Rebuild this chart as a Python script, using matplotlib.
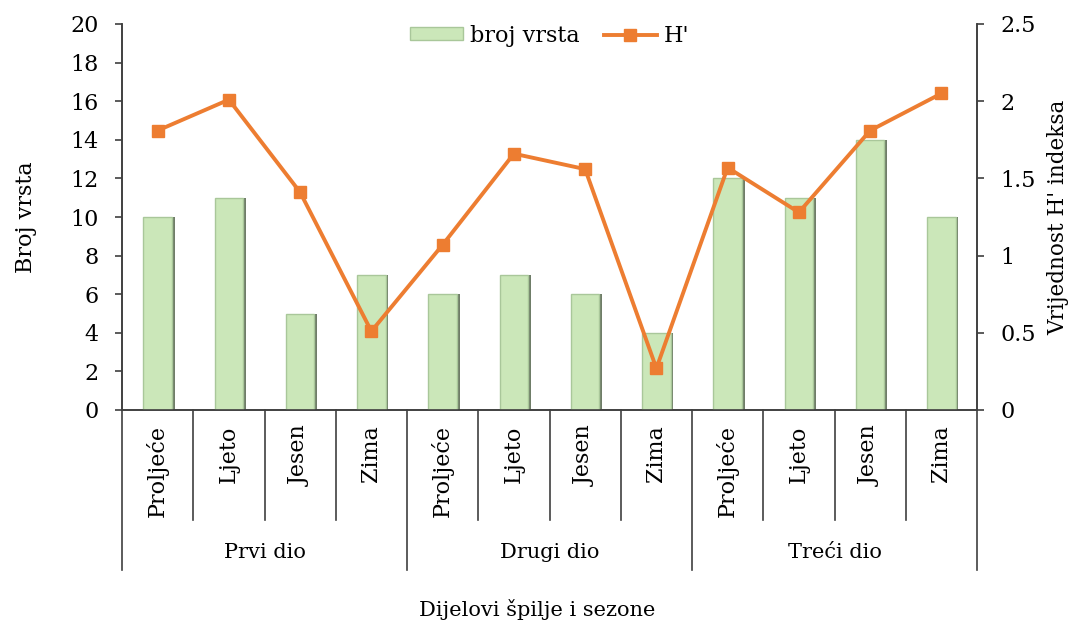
import matplotlib.pyplot as plt
import numpy as np

# broj vrsta i Shannonov indeks po dijelu špilje i sezoni
parts = ["Prvi dio", "Drugi dio", "Treći dio"]
seasons = ["Proljeće", "Ljeto", "Jesen", "Zima"]
species_count = [10, 11, 5, 7, 6, 7, 6, 4, 12, 11, 14, 10]
shannon_h = [1.81, 2.01, 1.41, 0.51, 1.07, 1.66, 1.56, 0.27, 1.57, 1.28, 1.81, 2.05]

serif = "DejaVu Serif"
plt.rcParams["font.family"] = serif

fig = plt.figure(figsize=(10.74, 6.25), dpi=100)
ax = fig.add_axes([0.1136, 0.344, 0.7961, 0.6176])
ax2 = ax.twinx()

n = len(species_count)
x = np.arange(n)
bar_w = 0.4

# tamna sjena iza stupaca pa sami stupci
ax.bar(x + 0.04, species_count, width=bar_w, color="#6f7d68", zorder=2)
ax.bar(x, species_count, width=bar_w, color="#cbe7b9", edgecolor="#a9c79a",
       linewidth=1, zorder=3, label="broj vrsta")

ax2.plot(x, shannon_h, color="#ed7d31", linewidth=2.8, marker="s",
         markersize=9, label="H'", zorder=4)

ax.set_xlim(-0.5, n - 0.5)
ax.set_ylim(0, 20)
ax.set_yticks(range(0, 21, 2))
ax2.set_ylim(0, 2.5)
ax2.set_yticks([0, 0.5, 1, 1.5, 2, 2.5])
ax2.set_yticklabels(["0", "0.5", "1", "1.5", "2", "2.5"])

for a in (ax, ax2):
    a.spines["top"].set_visible(False)
    for s in a.spines.values():
        s.set_color("#404040")
        s.set_linewidth(1.2)
    a.tick_params(axis="y", labelsize=16, length=5, width=1.2, color="#404040",
                  pad=12)
ax.set_xticks([])

ax.set_ylabel("Broj vrsta", fontsize=16, labelpad=24)
ax2.set_ylabel("Vrijednost H' indeksa", fontsize=15.5, labelpad=8)

# dvorazinska kategorijska os ispod grafa
trans = ax.get_xaxis_transform()
for i in range(n + 1):
    xb = i - 0.5
    bottom = -0.415 if i % 4 == 0 else -0.285
    ax.plot([xb, xb], [0, bottom], transform=trans, color="#404040",
            linewidth=1.2, clip_on=False)
for i in range(n):
    ax.text(i, -0.04, seasons[i % 4], transform=trans, rotation=90,
            ha="center", va="top", fontsize=16)
for j, p in enumerate(parts):
    ax.text(4 * j + 1.5, -0.368, p, transform=trans, ha="center",
            va="center", fontsize=15)

fig.text(0.5, 0.024, "Dijelovi špilje i sezone", ha="center", va="center",
         fontsize=15)

h1, l1 = ax.get_legend_handles_labels()
h2, l2 = ax2.get_legend_handles_labels()
ax2.legend(h1[-1:] + h2, l1[-1:] + l2, loc="upper center",
           bbox_to_anchor=(0.5, 1.05), ncol=2, frameon=False,
           prop={"size": 16}, handlelength=2.4, handleheight=0.5,
           columnspacing=1.1, handletextpad=0.3)

fig.savefig("out.png", dpi=100)
